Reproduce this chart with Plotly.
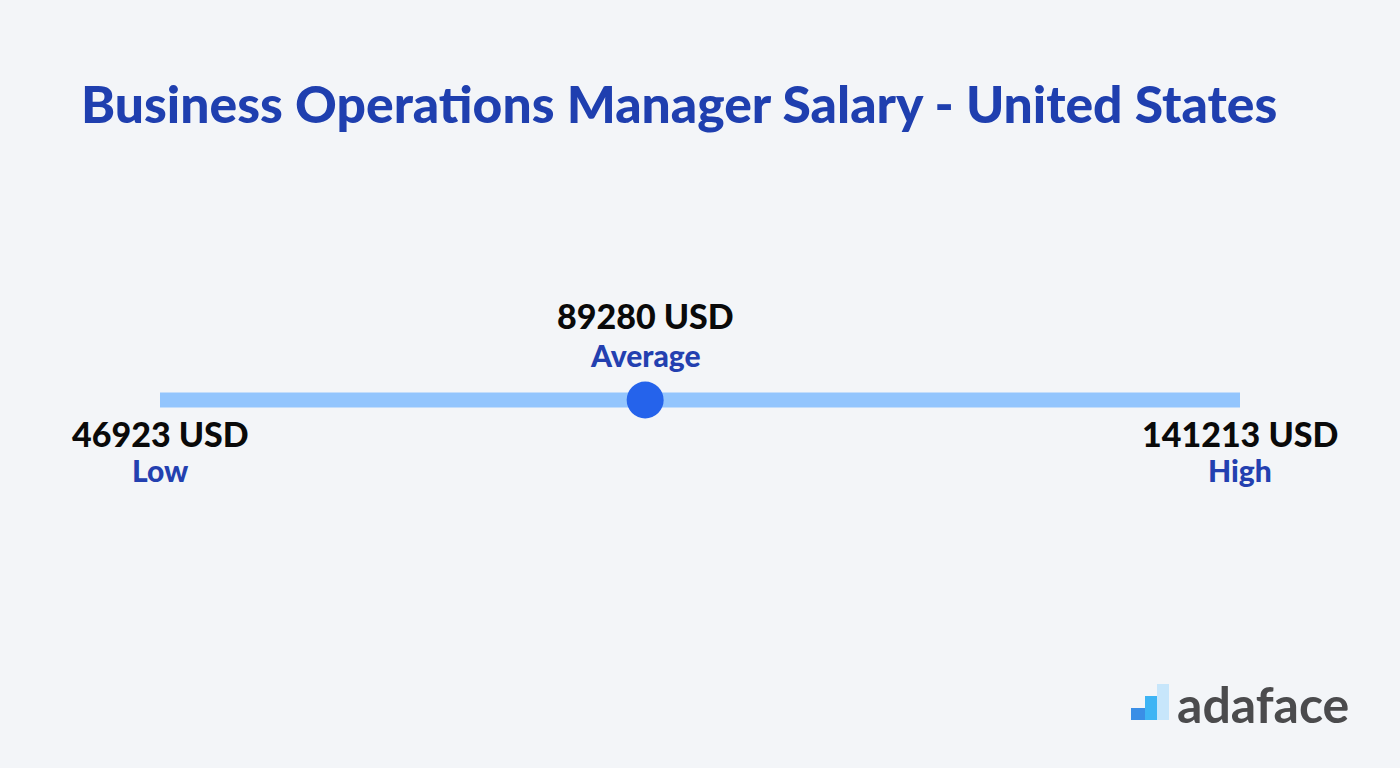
import plotly.graph_objects as go

# Data
labels = ["Low", "Average", "High"]
values = [46923, 89280, 141213]
currency = "USD"
title_text = "Business Operations Manager Salary - United States"

W, H = 1400, 768
# pixel layout of the range bar
bar_left_px, bar_right_px, bar_y_px = 160, 1240, 400

low, avg, high = values
scale = (high - low) / (bar_right_px - bar_left_px)
x0 = low - bar_left_px * scale
x1 = x0 + W * scale

def py(p):
    return 1 - p / H

fig = go.Figure()
fig.add_trace(go.Scatter(
    x=[low, high], y=[0, 0], mode="lines",
    line=dict(color="#93C5FD", width=15), hoverinfo="skip", showlegend=False,
))
fig.add_trace(go.Scatter(
    x=[avg], y=[0], mode="markers",
    marker=dict(color="#2563EB", size=37, line=dict(width=0)),
    hoverinfo="skip", showlegend=False,
))

font_fam = "Lato"
ann = []
label_pos = {"Low": (433, 470), "Average": (316, 355), "High": (433, 470)}
for lab, v in zip(labels, values):
    vy, ly = label_pos[lab]
    ann.append(dict(x=v, xref="x", y=py(vy), yref="paper", text=f"{v} {currency}",
                    showarrow=False, xanchor="center", yanchor="middle",
                    font=dict(family=font_fam, size=34, color="#0a0a0a", weight=900)))
    ann.append(dict(x=v, xref="x", y=py(ly), yref="paper", text=lab,
                    showarrow=False, xanchor="center", yanchor="middle",
                    font=dict(family=font_fam, size=30, color="#2340B0", weight=900)))

# logo text
ann.append(dict(x=1175 / W, xref="paper", y=py(704), yref="paper", text="adaface",
                showarrow=False, xanchor="left", yanchor="middle",
                font=dict(family=font_fam, size=50, color="#4B4B4D", weight=700)))

shapes = [
    dict(type="rect", xref="paper", yref="paper", x0=1131 / W, x1=1145 / W, y0=py(720), y1=py(708),
         fillcolor="#3A8EE6", line=dict(width=0)),
    dict(type="rect", xref="paper", yref="paper", x0=1145 / W, x1=1157 / W, y0=py(720), y1=py(696),
         fillcolor="#3DB4F4", line=dict(width=0)),
    dict(type="rect", xref="paper", yref="paper", x0=1157 / W, x1=1169 / W, y0=py(720), y1=py(684),
         fillcolor="#C7E6FB", line=dict(width=0)),
]

fig.update_layout(
    width=W, height=H,
    margin=dict(l=0, r=0, t=0, b=0),
    paper_bgcolor="#F3F5F8", plot_bgcolor="#F3F5F8",
    title=dict(text=title_text, x=81 / W, xanchor="left", y=py(105), yanchor="middle",
               font=dict(family=font_fam, size=51.6, color="#1F3FAF", weight=900)),
    xaxis=dict(range=[x0, x1], visible=False, fixedrange=True),
    yaxis=dict(range=[-(H - bar_y_px), bar_y_px], visible=False, fixedrange=True),
    annotations=ann, shapes=shapes,
)

fig.write_html("out.html", config={"displayModeBar": False},
               post_script="document.body.style.margin='0';document.body.style.background='#F3F5F8';")
